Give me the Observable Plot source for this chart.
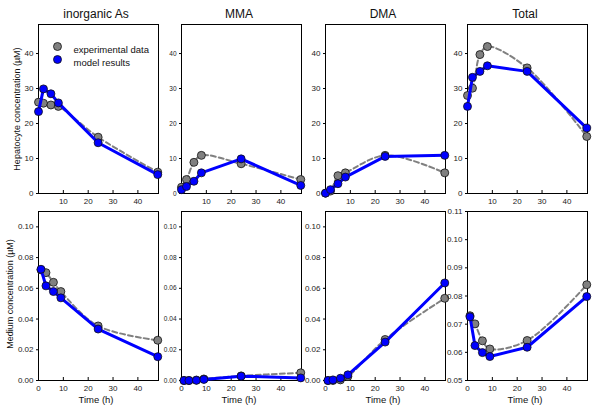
<!DOCTYPE html>
<html><head><meta charset="utf-8">
<script src="https://cdn.jsdelivr.net/npm/d3@7"></script>
<script src="https://cdn.jsdelivr.net/npm/@observablehq/plot@0.6"></script>
<style>
body{margin:0;background:#fff;font-family:"Liberation Sans",Arial,sans-serif;}
#root{position:relative;width:600px;height:408px;overflow:hidden;background:#fff;}
.lbl{position:absolute;color:#111;white-space:nowrap;line-height:1;}
.plotbox{position:absolute;}
</style></head><body><div id="root"></div>
<script>
// ---- data ----
const panelTitles = ["inorganic As", "MMA", "DMA", "Total"];
const legendLabels = ["experimental data", "model results"];
const yLabels = ["Hepatocyte concentration (\u00b5M)", "Medium concentration (\u00b5M)"];
const xLabel = "Time (h)";

const hepTime = [0, 2, 5, 8, 24, 48];
const medTime = [1, 3, 6, 9, 24, 48];

const hepExpInorg = [26.1, 25.8, 25.3, 24.9, 16.1, 6.1];
const hepModInorg = [23.4, 29.9, 28.5, 25.9, 14.5, 5.4];
const hepExpMMA   = [1.8, 4.0, 8.9, 10.9, 8.5, 4.0];
const hepModMMA   = [1.1, 2.0, 3.5, 5.9, 9.9, 2.3];
const hepExpDMA   = [0.1, 0.7, 5.1, 5.9, 10.9, 5.9];
const hepModDMA   = [0.1, 1.1, 2.8, 4.7, 10.6, 10.9];
const hepExpTotal = [28.0, 30.1, 39.7, 42.0, 35.9, 16.3];
const hepModTotal = [24.9, 33.2, 34.9, 36.5, 34.9, 18.7];

const medExpInorg = [0.0720, 0.0702, 0.0639, 0.0579, 0.0355, 0.0262];
const medModInorg = [0.0724, 0.0616, 0.0579, 0.0538, 0.0335, 0.0155];
const medExpMMA   = [0.0000, 0.0000, 0.0003, 0.0010, 0.0030, 0.0050];
const medModMMA   = [0.0000, 0.0000, 0.0001, 0.0007, 0.0028, 0.0017];
const medExpDMA   = [0.0000, 0.0000, 0.0004, 0.0026, 0.0267, 0.0535];
const medModDMA   = [0.0000, 0.0004, 0.0015, 0.0037, 0.0250, 0.0635];
const medExpTotal = [0.0730, 0.0701, 0.0641, 0.0612, 0.0642, 0.0840];
const medModTotal = [0.0726, 0.0624, 0.0599, 0.0585, 0.0618, 0.0798];

const hepYTicks = [0, 10, 20, 30, 40];
const medYTicks = [0, 0.02, 0.04, 0.06, 0.08, 0.10];
const totYTicks = [0.05, 0.06, 0.07, 0.08, 0.09, 0.10, 0.11];
const topXTicks = [10, 20, 30, 40];
const botXTicks = [0, 10, 20, 30, 40];

// ---- layout ----
const root = document.getElementById("root");
const frameLefts = [38, 181, 325, 467];
const frameW = 120;
const rowTops = [24, 211];
const frameH = 169;
const ML = 32, MR = 6, MT = 6, MB = 18;

const toRows = (t, v) => t.map((d, i) => ({t: d, v: v[i]}));

function panel({col, row, times, exp, mod, yDomain, yTicks, yFormat, xTicks, yFont, legend}) {
  const E = toRows(times, exp), M = toRows(times, mod);
  const marks = [
    Plot.frame({stroke: "#000", strokeWidth: 1}),
    Plot.axisX({ticks: xTicks, tickSize: -3, tickPadding: 8, tickFormat: "d", label: null, fontSize: 8, fill: "#222"}),
    Plot.axisY({ticks: yTicks, tickSize: 2, tickPadding: 3, tickFormat: yFormat, label: null, fontSize: yFont, fill: "#222"}),
    Plot.line(E, {x: "t", y: "v", stroke: "#808080", strokeWidth: 2, strokeDasharray: "5,3", curve: "catmull-rom"}),
    Plot.dot(E, {x: "t", y: "v", r: 4, fill: "#808080", stroke: "#111", strokeWidth: 0.8}),
    Plot.line(M, {x: "t", y: "v", stroke: "#0000ff", strokeWidth: 3}),
    Plot.dot(M, {x: "t", y: "v", r: 4, fill: "#0000ff", stroke: "#111", strokeWidth: 0.8})
  ];
  if (legend) {
    marks.push(
      Plot.dot([legendLabels[0]], {frameAnchor: "top-left", dx: 19, dy: 22, r: 4, fill: "#808080", stroke: "#111", strokeWidth: 0.8}),
      Plot.dot([legendLabels[1]], {frameAnchor: "top-left", dx: 19, dy: 35, r: 4, fill: "#0000ff", stroke: "#111", strokeWidth: 0.8}),
      Plot.text([legendLabels[0]], {text: d => d, frameAnchor: "top-left", dx: 35, dy: 22, textAnchor: "start", fontSize: 9.5, fill: "#111"}),
      Plot.text([legendLabels[1]], {text: d => d, frameAnchor: "top-left", dx: 35, dy: 35, textAnchor: "start", fontSize: 9.5, fill: "#111"})
    );
  }
  const svg = Plot.plot({
    width: ML + frameW + MR,
    height: MT + frameH + MB,
    marginLeft: ML, marginRight: MR, marginTop: MT, marginBottom: MB,
    style: {background: "transparent", overflow: "visible", fontFamily: '"Liberation Sans", Arial, sans-serif'},
    x: {domain: [0, 48.3]},
    y: {domain: yDomain},
    marks
  });
  const box = document.createElement("div");
  box.className = "plotbox";
  box.style.left = (frameLefts[col] - ML) + "px";
  box.style.top = (rowTops[row] - MT) + "px";
  box.appendChild(svg);
  root.appendChild(box);
}

const hepExp = [hepExpInorg, hepExpMMA, hepExpDMA, hepExpTotal];
const hepMod = [hepModInorg, hepModMMA, hepModDMA, hepModTotal];
const medExp = [medExpInorg, medExpMMA, medExpDMA, medExpTotal];
const medMod = [medModInorg, medModMMA, medModDMA, medModTotal];

for (let c = 0; c < 4; c++) {
  panel({col: c, row: 0, times: hepTime, exp: hepExp[c], mod: hepMod[c],
    yDomain: [0, 48.3], yTicks: hepYTicks, yFormat: "d", xTicks: topXTicks,
    yFont: c === 1 ? 6.5 : 8, legend: c === 0});
  panel({col: c, row: 1, times: medTime, exp: medExp[c], mod: medMod[c],
    yDomain: c === 3 ? [0.05, 0.11] : [0, 0.11], yTicks: c === 3 ? totYTicks : medYTicks,
    yFormat: ".2f", xTicks: botXTicks, yFont: c === 1 ? 6.5 : 8, legend: false});
}

// ---- text labels ----
function label(text, x, y, size, rotate) {
  const d = document.createElement("div");
  d.className = "lbl";
  d.textContent = text;
  d.style.left = x + "px";
  d.style.top = y + "px";
  d.style.fontSize = size + "px";
  d.style.transform = "translate(-50%,-50%)" + (rotate ? " rotate(-90deg)" : "");
  root.appendChild(d);
}
panelTitles.forEach((t, i) => label(t, frameLefts[i] + 58, 14, 12));
label(yLabels[0], 16.5, 109, 9, true);
label(yLabels[1], 10, 294, 9, true);
frameLefts.forEach(l => label(xLabel, l + 58, 400, 9.5));
</script></body></html>
